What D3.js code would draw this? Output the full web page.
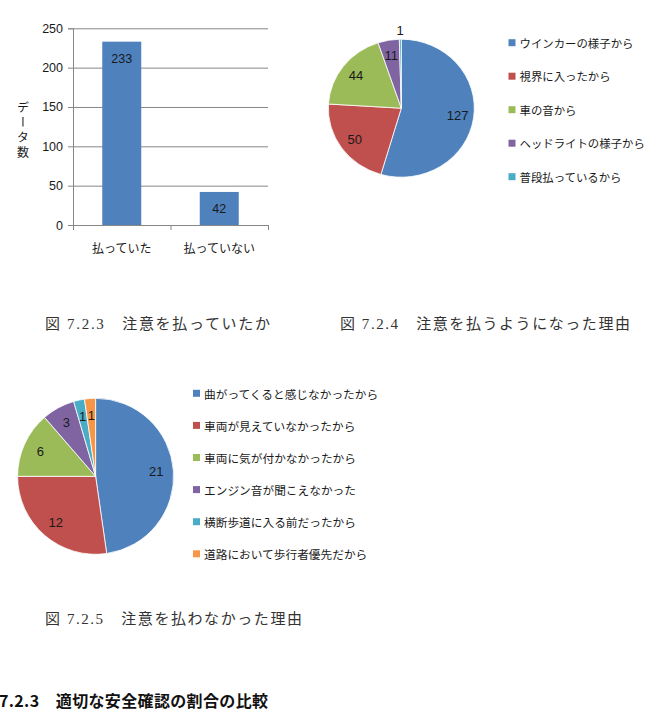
<!DOCTYPE html>
<html>
<head>
<meta charset="utf-8">
<script src="https://cdn.jsdelivr.net/npm/d3@7/dist/d3.min.js"></script>
<style>
  body { margin: 0; background: #fff; }
  svg { display: block; }
  .num { font-family: "Liberation Sans", Arial, sans-serif; }
  .jp { font-family: "Noto Sans CJK JP", sans-serif; }
</style>
</head>
<body>
<div id="chart"></div>
<script>
// bar chart data
var barCats = ["払っていた", "払っていない"];
var barVals = [233, 42];
var barTicks = [0, 50, 100, 150, 200, 250];

// pie 1
var pie1Names = ["ウインカーの様子から", "視界に入ったから", "車の音から", "ヘッドライトの様子から", "普段払っているから"];
var pie1Vals = [127, 50, 44, 11, 1];

// pie 2
var pie2Names = ["曲がってくると感じなかったから", "車両が見えていなかったから", "車両に気が付かなかったから", "エンジン音が聞こえなかった", "横断歩道に入る前だったから", "道路において歩行者優先だから"];
var pie2Vals = [21, 12, 6, 3, 1, 1];

var palette = ["#4F81BD", "#C0504D", "#9BBB59", "#8064A2", "#4BACC6", "#F79646"];

var captions = ["図 7.2.3　注意を払っていたか", "図 7.2.4　注意を払うようになった理由", "図 7.2.5　注意を払わなかった理由"];
var heading = "7.2.3　適切な安全確認の割合の比較";

var width = 661, height = 718;
var svg = d3.select("#chart").append("svg")
    .attr("width", width)
    .attr("height", height);

// ---------- bar chart ----------
var plot = { left: 73, right: 268, top: 28.3, bottom: 225 };

var y = d3.scaleLinear()
    .domain([0, 250])
    .range([plot.bottom, plot.top]);

var x = d3.scaleBand()
    .domain(barCats)
    .range([plot.left, plot.right])
    .paddingInner(0.6)
    .paddingOuter(0.3);

var gridColor = "#878787";

// gridlines
var grid = svg.append("g")
    .attr("transform", "translate(" + plot.left + ",0)")
    .call(d3.axisLeft(y).tickValues(barTicks).tickSize(-(plot.right - plot.left)).tickFormat(""));
grid.select(".domain").remove();
grid.selectAll("line").attr("stroke", gridColor);

// y axis
var yAxis = svg.append("g")
    .attr("transform", "translate(" + plot.left + ",0)")
    .call(d3.axisLeft(y).tickValues(barTicks).tickSize(5).tickPadding(5));
yAxis.select(".domain").attr("stroke", gridColor);
yAxis.selectAll("line").attr("stroke", gridColor);
yAxis.selectAll("text")
    .attr("class", "num")
    .attr("font-size", "12.5px")
    .attr("fill", "#1a1a1a");

// bars
svg.selectAll(".bar")
    .data(barVals)
    .enter()
    .append("rect")
    .attr("class", "bar")
    .attr("x", function(d, i) { return x(barCats[i]); })
    .attr("width", x.bandwidth())
    .attr("y", function(d) { return y(d); })
    .attr("height", function(d) { return y(0) - y(d); })
    .attr("fill", palette[0]);

svg.selectAll(".barlabel")
    .data(barVals)
    .enter()
    .append("text")
    .attr("class", "barlabel num")
    .attr("x", function(d, i) { return x(barCats[i]) + x.bandwidth() / 2; })
    .attr("y", function(d) { return y(d) + 21; })
    .attr("text-anchor", "middle")
    .attr("font-size", "12.5px")
    .attr("fill", "#1a1a1a")
    .text(function(d) { return d; });

// x axis: ticks on band edges
var xEdges = d3.scaleLinear().domain([0, barCats.length]).range([plot.left, plot.right]);
var xAxis = svg.append("g")
    .attr("transform", "translate(0," + plot.bottom + ")")
    .call(d3.axisBottom(xEdges).tickValues(d3.range(barCats.length + 1)).tickSize(5).tickFormat(""));
xAxis.select(".domain").attr("stroke", gridColor);
xAxis.selectAll("line").attr("stroke", gridColor);

svg.selectAll(".cat")
    .data(barCats)
    .enter()
    .append("text")
    .attr("class", "cat jp")
    .attr("x", function(d) { return x(d) + x.bandwidth() / 2; })
    .attr("y", 252.5)
    .attr("text-anchor", "middle")
    .attr("font-size", "12px")
    .attr("fill", "#1a1a1a")
    .text(function(d) { return d; });

svg.append("text")
    .attr("class", "jp")
    .attr("x", 23)
    .attr("y", 101)
    .attr("font-size", "12px")
    .attr("fill", "#1a1a1a")
    .style("writing-mode", "vertical-rl")
    .style("letter-spacing", "3px")
    .text("データ数");

// ---------- pies ----------
function drawPie(vals, names, opt) {
    var pie = d3.pie().sort(null).value(function(d) { return d; });
    var arcs = pie(vals);
    var total = d3.sum(vals);
    var arc = d3.arc().innerRadius(0).outerRadius(opt.ry);

    var g = svg.append("g")
        .attr("transform", "translate(" + opt.cx + "," + opt.cy + ") scale(" + (opt.rx / opt.ry) + ",1)");

    g.selectAll("path")
        .data(arcs)
        .enter()
        .append("path")
        .attr("d", arc)
        .attr("fill", function(d, i) { return palette[i]; })
        .attr("stroke", "#ffffff")
        .attr("stroke-width", 0.8)
        .attr("vector-effect", "non-scaling-stroke");

    svg.selectAll(".lbl-" + opt.id)
        .data(arcs)
        .enter()
        .append("text")
        .attr("class", "num lbl-" + opt.id)
        .attr("x", function(d) {
            var a = (d.startAngle + d.endAngle) / 2;
            var k = d.value / total < 0.01 ? 1.13 : 0.78;
            return opt.cx + k * opt.rx * Math.sin(a);
        })
        .attr("y", function(d) {
            var a = (d.startAngle + d.endAngle) / 2;
            var k = d.value / total < 0.01 ? 1.13 : 0.78;
            return opt.cy - k * opt.ry * Math.cos(a);
        })
        .attr("text-anchor", "middle")
        .attr("dominant-baseline", "central")
        .attr("font-size", "13px")
        .attr("fill", "#1a1a1a")
        .text(function(d) { return d.value; });

    // legend
    var leg = svg.selectAll(".leg-" + opt.id)
        .data(names)
        .enter()
        .append("g")
        .attr("class", "leg-" + opt.id)
        .attr("transform", function(d, i) {
            return "translate(" + opt.legX + "," + (opt.legY + i * opt.legStep) + ")";
        });

    leg.append("rect")
        .attr("x", 0)
        .attr("y", -3.5)
        .attr("width", 7)
        .attr("height", 7)
        .attr("fill", function(d, i) { return palette[i]; });

    leg.append("text")
        .attr("class", "jp")
        .attr("x", 11)
        .attr("y", 0)
        .attr("dominant-baseline", "central")
        .attr("font-size", opt.legFont)
        .attr("fill", "#1a1a1a")
        .text(function(d) { return d; });
}

drawPie(pie1Vals, pie1Names, {
    id: "p1", cx: 401.3, cy: 108.2, rx: 73, ry: 69,
    legX: 508.5, legY: 42.7, legStep: 33.5, legFont: "11.4px"
});

drawPie(pie2Vals, pie2Names, {
    id: "p2", cx: 95.6, cy: 476.3, rx: 78, ry: 78,
    legX: 193, legY: 393.3, legStep: 32.1, legFont: "11.7px"
});

// ---------- captions ----------
var capPos = [
    { x: 45, y: 328.5, w: 225 },
    { x: 340, y: 328.5, w: 290 },
    { x: 45, y: 623.5, w: 257 }
];

svg.selectAll(".cap")
    .data(captions)
    .enter()
    .append("text")
    .attr("class", "cap")
    .attr("x", function(d, i) { return capPos[i].x; })
    .attr("y", function(d, i) { return capPos[i].y; })
    .attr("textLength", function(d, i) { return capPos[i].w; })
    .attr("lengthAdjust", "spacing")
    .attr("font-family", "'Liberation Serif', 'Noto Sans CJK JP', serif")
    .attr("font-size", "15px")
    .attr("fill", "#333")
    .text(function(d) { return d; });

svg.append("text")
    .attr("x", -1)
    .attr("y", 706.5)
    .attr("textLength", 269)
    .attr("lengthAdjust", "spacing")
    .attr("font-family", "'Noto Sans CJK JP', sans-serif")
    .attr("font-weight", "bold")
    .attr("font-size", "16px")
    .attr("fill", "#111")
    .text(heading);
</script>
</body>
</html>
